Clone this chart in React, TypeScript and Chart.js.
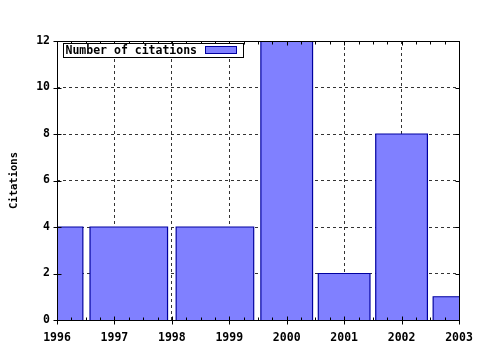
import React, { useEffect, useRef } from "react";
import { Chart, registerables } from "chart.js";

Chart.register(...registerables);

const years = [1996, 1997, 1999, 2000, 2001, 2002, 2003];
const citations = [4, 4, 4, 12, 2, 8, 1];
const xTickMin = 1996;
const xTickMax = 2003;
const yTickMin = 0;
const yTickMax = 12;
const seriesLabel = "Number of citations";
const yTitle = "Citations";

const FILL = "#8080ff";
const EDGE = "#0000a0";
const FONT = "'DejaVu Sans Mono', monospace";

// gnuplot "boxes" with relative boxwidth 0.9: each box spans midpoints to neighbours, scaled
function boxEdges(i: number): [number, number] {
  const n = years.length;
  const l = i > 0 ? (years[i - 1] + years[i]) / 2 : years[i] - (years[i + 1] - years[i]) / 2;
  const r = i < n - 1 ? (years[i] + years[i + 1]) / 2 : years[i] + (years[i] - years[i - 1]) / 2;
  const c = (l + r) / 2;
  const h = ((r - l) * 0.9) / 2;
  return [c - h, c + h];
}

const framePlugin = {
  id: "gnuFrame",
  afterDraw(chart: any) {
    const ctx = chart.ctx;
    const a = chart.chartArea;
    const xs = chart.scales.x;
    const ys = chart.scales.y;
    const L = Math.round(a.left) + 0.5;
    const R = Math.round(a.right) + 0.5;
    const T = Math.round(a.top) + 0.5;
    const B = Math.round(a.bottom) + 0.5;
    ctx.save();
    ctx.strokeStyle = "#000";
    ctx.lineWidth = 1;
    ctx.setLineDash([]);
    ctx.beginPath();
    ctx.rect(L, T, R - L, B - T);
    // y major ticks
    for (let v = yTickMin; v <= yTickMax; v += 2) {
      const y = Math.round(ys.getPixelForValue(v)) + 0.5;
      ctx.moveTo(L - 4, y);
      ctx.lineTo(L + 4, y);
      ctx.moveTo(R - 4, y);
      ctx.lineTo(R, y);
    }
    // x major + minor ticks
    for (let v = xTickMin; v <= xTickMax; v += 1) {
      const x = Math.round(xs.getPixelForValue(v)) + 0.5;
      ctx.moveTo(x, B + 4);
      ctx.lineTo(x, B - 4);
      ctx.moveTo(x, T);
      ctx.lineTo(x, T + 4);
      if (v < xTickMax) {
        for (let k = 1; k < 4; k++) {
          const xm = Math.round(xs.getPixelForValue(v + k / 4)) + 0.5;
          ctx.moveTo(xm, B);
          ctx.lineTo(xm, B - 3);
          ctx.moveTo(xm, T);
          ctx.lineTo(xm, T + 3);
        }
      }
    }
    ctx.stroke();

    // legend box (inside top-left)
    ctx.font = "bold 11.5px " + FONT;
    const tw = ctx.measureText(seriesLabel).width;
    const bx = Math.round(a.left) + 6.5;
    const by = Math.round(a.top) + 2.5;
    const sampleW = 31;
    const bw = Math.round(2 + tw + 8 + sampleW + 7);
    const bh = 14;
    ctx.fillStyle = "#fff";
    ctx.fillRect(bx, by, bw, bh);
    ctx.strokeRect(bx, by, bw, bh);
    ctx.fillStyle = "#000";
    ctx.textBaseline = "middle";
    ctx.textAlign = "left";
    ctx.fillText(seriesLabel, bx + 2, by + bh / 2 + 0.5);
    const sx = Math.round(bx + 2 + tw + 8) + 0.5;
    const sy = by + 3;
    ctx.fillStyle = FILL;
    ctx.fillRect(sx, sy, sampleW, 7);
    ctx.strokeStyle = EDGE;
    ctx.strokeRect(sx, sy, sampleW, 7);
    ctx.restore();
  },
};

export default function App() {
  const ref = useRef<HTMLCanvasElement | null>(null);
  useEffect(() => {
    if (!ref.current) return;
    const datasets = years.map((yr, i) => {
      const [l, r] = boxEdges(i);
      return {
        label: i === 0 ? seriesLabel : seriesLabel + " " + yr,
        data: [
          { x: l, y: 0 },
          { x: l, y: citations[i] },
          { x: r, y: citations[i] },
          { x: r, y: 0 },
        ],
        showLine: true,
        fill: "origin",
        backgroundColor: FILL,
        borderColor: EDGE,
        borderWidth: 1.2,
        pointRadius: 0,
        tension: 0,
      };
    });
    const chart = new Chart(ref.current, {
      type: "scatter",
      data: { datasets },
      options: {
        animation: false,
        responsive: false,
        layout: { padding: { top: 41, right: 21, left: 0, bottom: 0 } },
        plugins: { legend: { display: false }, tooltip: { enabled: false } },
        scales: {
          x: {
            type: "linear",
            min: xTickMin,
            max: xTickMax,
            afterFit: (s: any) => {
              s.height = 30;
              s.paddingRight = 0;
              s.paddingLeft = 0;
            },
            ticks: {
              stepSize: 1,
              padding: 11,
              color: "#000",
              font: { family: FONT, size: 11.5, weight: "bold" },
              callback: (v: any) => String(v),
              maxRotation: 0,
            },
            grid: { color: "#333", lineWidth: 1, drawTicks: false },
            border: { display: false, dash: [3, 3] },
          },
          y: {
            min: yTickMin,
            max: yTickMax,
            afterFit: (s: any) => {
              s.width = 57;
              s.paddingTop = 0;
              s.paddingBottom = 0;
            },
            ticks: {
              stepSize: 2,
              padding: 7,
              color: "#000",
              font: { family: FONT, size: 11.5, weight: "bold" },
              callback: (v: any) => String(v),
            },
            grid: { color: "#333", lineWidth: 1, drawTicks: false },
            border: { display: false, dash: [3, 3] },
            title: {
              display: true,
              text: yTitle,
              color: "#000",
              font: { family: FONT, size: 10.5, weight: "bold" },
              padding: { top: 8, bottom: 0 },
            },
          },
        },
      },
      plugins: [framePlugin],
    });
    return () => chart.destroy();
  }, []);
  return (
    <div style={{ position: "absolute", left: 0, top: 0, width: 480, height: 350, background: "#fff" }}>
      <canvas ref={ref} width={480} height={350} style={{ display: "block" }} />
    </div>
  );
}
